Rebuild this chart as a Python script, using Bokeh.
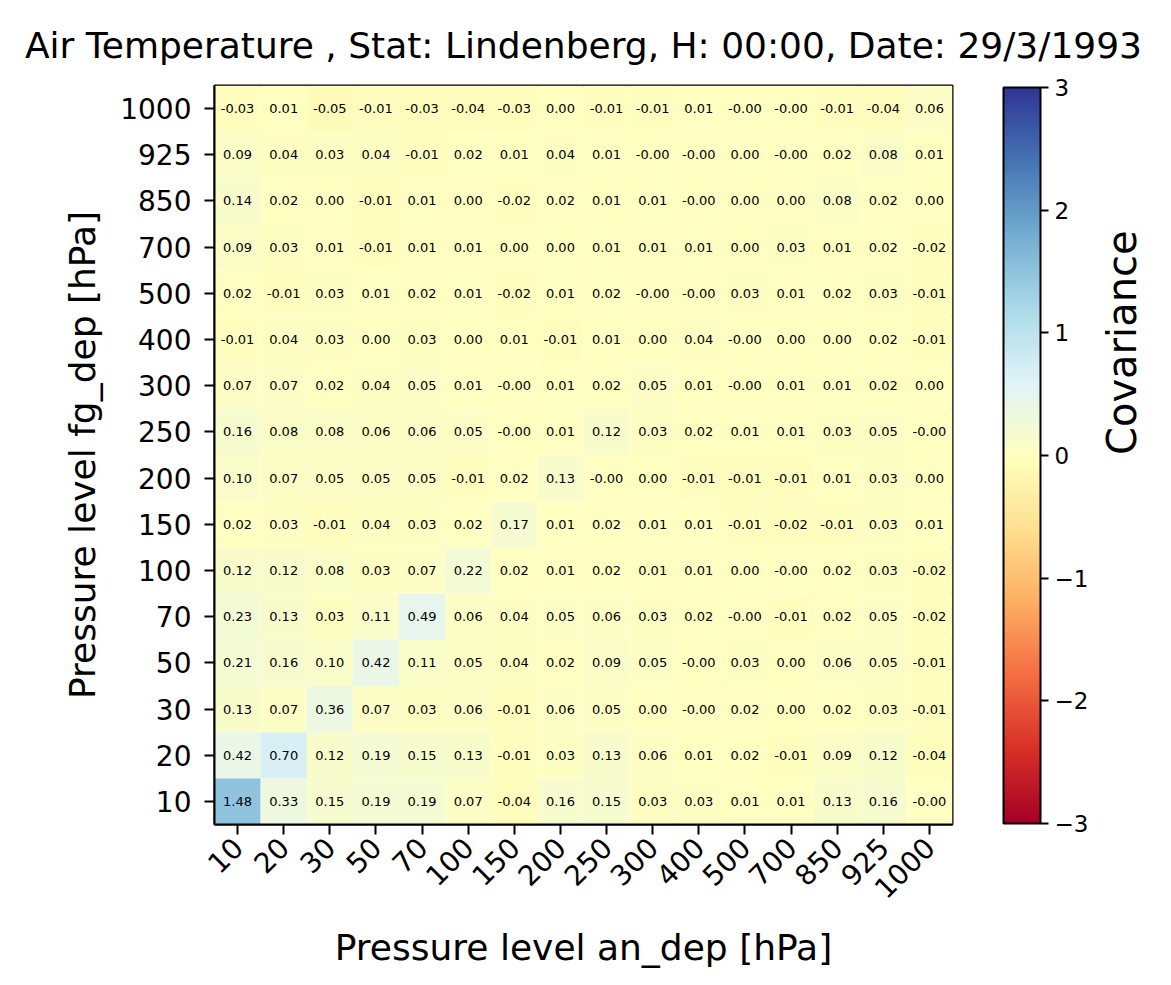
import math
import numpy as np
from bokeh.plotting import figure
from bokeh.models import (ColumnDataSource, FactorRange, LinearColorMapper, ColorBar,
                          FixedTicker, CategoricalAxis)
from bokeh.transform import transform
from bokeh.core.properties import value
from bokeh.embed import file_html
from bokeh.resources import INLINE

# ---------------- data ----------------
levels = ["10", "20", "30", "50", "70", "100", "150", "200", "250", "300",
          "400", "500", "700", "850", "925", "1000"]

# covariance rows, one per fg_dep level; values along an_dep levels 10 ... 1000
cov_1000 = [-0.03, 0.01, -0.05, -0.01, -0.03, -0.04, -0.03, 0.00, -0.01, -0.01, 0.01, -0.0, -0.0, -0.01, -0.04, 0.06]
cov_925 = [0.09, 0.04, 0.03, 0.04, -0.01, 0.02, 0.01, 0.04, 0.01, -0.0, -0.0, 0.00, -0.0, 0.02, 0.08, 0.01]
cov_850 = [0.14, 0.02, 0.00, -0.01, 0.01, 0.00, -0.02, 0.02, 0.01, 0.01, -0.0, 0.00, 0.00, 0.08, 0.02, 0.00]
cov_700 = [0.09, 0.03, 0.01, -0.01, 0.01, 0.01, 0.00, 0.00, 0.01, 0.01, 0.01, 0.00, 0.03, 0.01, 0.02, -0.02]
cov_500 = [0.02, -0.01, 0.03, 0.01, 0.02, 0.01, -0.02, 0.01, 0.02, -0.0, -0.0, 0.03, 0.01, 0.02, 0.03, -0.01]
cov_400 = [-0.01, 0.04, 0.03, 0.00, 0.03, 0.00, 0.01, -0.01, 0.01, 0.00, 0.04, -0.0, 0.00, 0.00, 0.02, -0.01]
cov_300 = [0.07, 0.07, 0.02, 0.04, 0.05, 0.01, -0.0, 0.01, 0.02, 0.05, 0.01, -0.0, 0.01, 0.01, 0.02, 0.00]
cov_250 = [0.16, 0.08, 0.08, 0.06, 0.06, 0.05, -0.0, 0.01, 0.12, 0.03, 0.02, 0.01, 0.01, 0.03, 0.05, -0.0]
cov_200 = [0.10, 0.07, 0.05, 0.05, 0.05, -0.01, 0.02, 0.13, -0.0, 0.00, -0.01, -0.01, -0.01, 0.01, 0.03, 0.00]
cov_150 = [0.02, 0.03, -0.01, 0.04, 0.03, 0.02, 0.17, 0.01, 0.02, 0.01, 0.01, -0.01, -0.02, -0.01, 0.03, 0.01]
cov_100 = [0.12, 0.12, 0.08, 0.03, 0.07, 0.22, 0.02, 0.01, 0.02, 0.01, 0.01, 0.00, -0.0, 0.02, 0.03, -0.02]
cov_70 = [0.23, 0.13, 0.03, 0.11, 0.49, 0.06, 0.04, 0.05, 0.06, 0.03, 0.02, -0.0, -0.01, 0.02, 0.05, -0.02]
cov_50 = [0.21, 0.16, 0.10, 0.42, 0.11, 0.05, 0.04, 0.02, 0.09, 0.05, -0.0, 0.03, 0.00, 0.06, 0.05, -0.01]
cov_30 = [0.13, 0.07, 0.36, 0.07, 0.03, 0.06, -0.01, 0.06, 0.05, 0.00, -0.0, 0.02, 0.00, 0.02, 0.03, -0.01]
cov_20 = [0.42, 0.70, 0.12, 0.19, 0.15, 0.13, -0.01, 0.03, 0.13, 0.06, 0.01, 0.02, -0.01, 0.09, 0.12, -0.04]
cov_10 = [1.48, 0.33, 0.15, 0.19, 0.19, 0.07, -0.04, 0.16, 0.15, 0.03, 0.03, 0.01, 0.01, 0.13, 0.16, -0.0]

cov_rows = {
    "10": cov_10, "20": cov_20, "30": cov_30, "50": cov_50, "70": cov_70,
    "100": cov_100, "150": cov_150, "200": cov_200, "250": cov_250, "300": cov_300,
    "400": cov_400, "500": cov_500, "700": cov_700, "850": cov_850, "925": cov_925,
    "1000": cov_1000,
}

cbar_ticks = [-3, -2, -1, 0, 1, 2, 3]

# ---------------- colour map (RdYlBu) ----------------
anchors = ["#a50026", "#d73027", "#f46d43", "#fdae61", "#fee090", "#ffffbf",
           "#e0f3f8", "#abd9e9", "#74add1", "#4575b4", "#313695"]
anc = np.array([[int(h[i:i + 2], 16) for i in (1, 3, 5)] for h in anchors], dtype=float)
pos = np.linspace(0, 1, len(anchors))
t = np.linspace(0, 1, 256)
rgb = np.stack([np.interp(t, pos, anc[:, k]) for k in range(3)], axis=1)
palette = ["#%02x%02x%02x" % tuple(int(round(c)) for c in row) for row in rgb]
mapper = LinearColorMapper(palette=palette, low=-3, high=3)

# ---------------- source ----------------
xs, ys, vs, lbls = [], [], [], []
for ylev in levels:
    for xlev, v in zip(levels, cov_rows[ylev]):
        xs.append(xlev)
        ys.append(ylev)
        vs.append(v)
        lbls.append(f"{v:.2f}")
src = ColumnDataSource(dict(x=xs, y=ys, v=vs, lbl=lbls))

FONT = "DejaVu Sans"

p = figure(width=1171, height=985,
           x_range=FactorRange(factors=levels), y_range=FactorRange(factors=levels),
           output_backend="svg", toolbar_location=None,
           min_border_left=214, min_border_right=219,
           min_border_top=85, min_border_bottom=161)

p.rect(x="x", y="y", width=1, height=1, source=src,
       fill_color=transform("v", mapper), line_color=None)
p.text(x="x", y="y", text="lbl", source=src, text_align="center",
       text_baseline="middle", text_font_size="13px",
       text_font=value(FONT), text_color="black")

p.title.text = "Air Temperature , Stat: Lindenberg, H: 00:00, Date: 29/3/1993"
p.title.align = "center"
p.title.text_font = FONT
p.title.text_font_size = "36px"
p.title.text_font_style = "normal"
p.title.text_color = "black"
p.title.standoff = 40

p.xgrid.grid_line_color = None
p.ygrid.grid_line_color = None
p.outline_line_color = "black"
p.outline_line_width = 2
p.outline_line_alpha = 1

for ax in (p.xaxis[0], p.yaxis[0]):
    ax.major_label_text_font = FONT
    ax.major_label_text_font_size = "28px"
    ax.major_label_text_color = "black"
    ax.major_tick_in = 0
    ax.major_tick_out = 10
    ax.major_tick_line_width = 2
    ax.major_tick_line_color = "black"
    ax.axis_line_width = 2
    ax.axis_line_color = "black"
    ax.axis_label_text_font = FONT
    ax.axis_label_text_font_size = "36px"
    ax.axis_label_text_font_style = "normal"
    ax.axis_label_text_color = "black"

p.xaxis.axis_label = "Pressure level an_dep [hPa]"
p.yaxis.axis_label = "Pressure level fg_dep [hPa]"
p.xaxis.major_label_orientation = math.pi / 4
p.xaxis.major_label_standoff = 8
p.yaxis.major_label_standoff = 13
p.yaxis.axis_label_standoff = 14
p.xaxis.axis_label_standoff = 16

cb = ColorBar(color_mapper=mapper,
              ticker=FixedTicker(ticks=cbar_ticks),
              major_label_overrides={t_: (str(t_) if t_ >= 0 else "\u2212" + str(-t_)) for t_ in cbar_ticks},
              width=37, height=736, padding=0, margin=0, location=(51, 1),
              major_tick_in=0, major_tick_out=8,
              major_tick_line_color="black", major_tick_line_width=2,
              minor_tick_line_color=None,
              bar_line_color="black", bar_line_width=2,
              major_label_text_font=FONT, major_label_text_font_size="23px",
              major_label_text_color="black", label_standoff=6)
p.add_layout(cb, "right")

ax2 = CategoricalAxis(ticker=FixedTicker(ticks=[]),
                      axis_line_color=None, major_tick_line_color=None,
                      major_tick_out=0, major_label_standoff=0,
                      axis_label="Covariance", axis_label_text_font=FONT,
                      axis_label_text_font_size="40px", axis_label_text_font_style="normal",
                      axis_label_text_color="black", axis_label_standoff=30,
                      axis_label_text_align="center")
props = ax2.properties()
if "axis_label_orientation" in props:
    ax2.axis_label_orientation = math.pi / 2
if "axis_label_align" in props:
    try:
        ax2.axis_label_align = "center"
    except Exception:
        pass
p.add_layout(ax2, "right")

open("out.html", "w").write(file_html(p, INLINE))
